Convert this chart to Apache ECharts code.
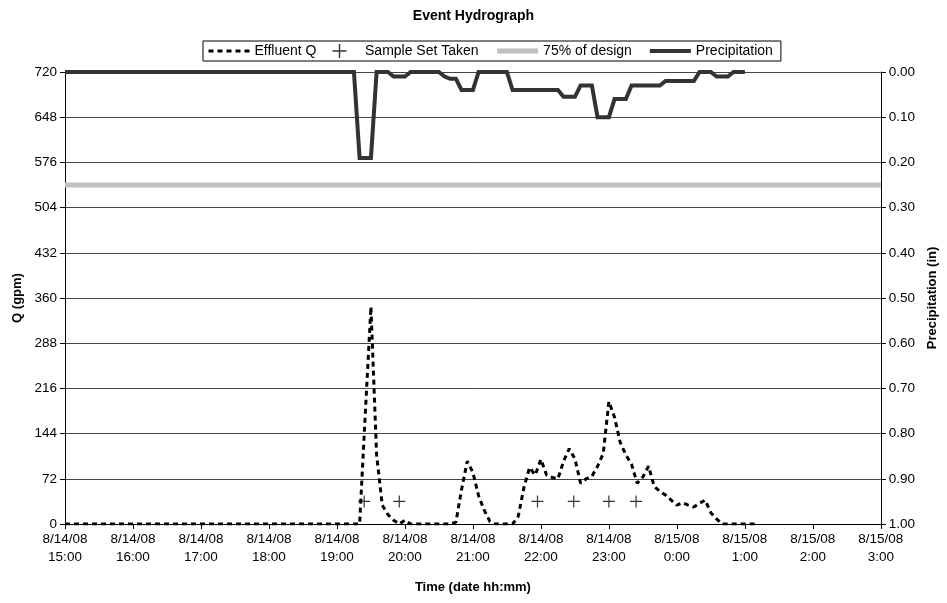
<!DOCTYPE html>
<html>
<head>
<meta charset="utf-8">
<script src="https://cdn.jsdelivr.net/npm/echarts@6/dist/echarts.min.js"></script>
<style>
  html, body { margin: 0; padding: 0; background: #fff; }
  #chart { width: 947px; height: 603px; }
</style>
</head>
<body>
<div id="chart"></div>
<script>
// time of day (hh:mm), 8/14/08 15:00 through 8/15/08 3:00
var effTimes = ['15:00', '19:15', '19:20', '19:25', '19:30', '19:35', '19:40', '19:45', '19:50', '19:55',
  '20:00', '20:05', '20:10', '20:40', '20:45', '20:50', '20:55', '21:00', '21:05', '21:10', '21:15', '21:20',
  '21:35', '21:40', '21:45', '21:50', '21:55', '22:00', '22:05', '22:10', '22:15', '22:20', '22:25', '22:30',
  '22:35', '22:40', '22:45', '22:50', '22:55', '23:00', '23:05', '23:10', '23:15', '23:20', '23:25', '23:30',
  '23:35', '23:40', '23:45', '23:50', '23:55', '00:00', '00:05', '00:10', '00:15', '00:20', '00:25', '00:30',
  '00:35', '00:40', '01:10'];
var effQ = [0, 0, 0, 175, 346, 110, 30, 15, 6, 0,
  6, 0, 0, 0, 3, 55, 100, 82, 45, 22, 4, 0,
  0, 12, 58, 90, 78, 103, 78, 74, 72, 100, 120, 104,
  65, 72, 76, 92, 112, 195, 170, 130, 110, 95, 65, 75,
  92, 60, 52, 46, 38, 30, 34, 30, 27, 33, 38, 18,
  8, 0, 0];

var sampleTimes = ['19:24', '19:55', '21:57', '22:29', '23:00', '23:24'];
var sampleQ = [36, 36, 36, 36, 36, 36];

var designTimes = ['15:00', '03:00'];
var designQ = [540, 540];

var precipTimes = ['15:00', '19:15', '19:20', '19:30', '19:35', '19:45', '19:50', '20:00', '20:05', '20:30',
  '20:35', '20:40', '20:45', '20:50', '21:00', '21:05', '21:30', '21:35', '22:15', '22:20', '22:30', '22:35',
  '22:45', '22:50', '23:00', '23:05', '23:15', '23:20', '23:45', '23:50', '00:15', '00:20', '00:30', '00:35',
  '00:45', '00:50', '01:00'];
var precipIn = [0, 0, 0.19, 0.19, 0, 0, 0.01, 0.01, 0, 0,
  0.01, 0.015, 0.015, 0.04, 0.04, 0, 0, 0.04, 0.04, 0.055, 0.055, 0.03,
  0.03, 0.10, 0.10, 0.06, 0.06, 0.03, 0.03, 0.02, 0.02, 0, 0, 0.01,
  0.01, 0, 0];

var FONT = 'Liberation Sans, Arial, sans-serif';

// hours after 8/14/08 15:00
function toHours(t) {
  var p = t.split(':');
  var h = +p[0] + (+p[1]) / 60;
  if (h < 12) h += 24;
  return h - 15;
}
function pairs(times, vals) {
  return times.map(function (t, i) { return [toHours(t), vals[i]]; });
}

var chart = echarts.init(document.getElementById('chart'));

var noDot = { opacity: 0 };

var option = {
  animation: false,
  backgroundColor: '#fff',
  textStyle: { fontFamily: FONT, color: '#000' },
  title: {
    text: 'Event Hydrograph',
    left: 'center',
    top: 4,
    textStyle: { fontFamily: FONT, fontSize: 14, fontWeight: 'bold', color: '#000' }
  },
  legend: {
    left: 203,
    top: 41,
    padding: [3, 8, 3, 4],
    itemGap: 16,
    itemWidth: 41,
    itemHeight: 14,
    borderColor: '#000',
    borderWidth: 1,
    borderRadius: 0,
    backgroundColor: '#fff',
    textStyle: { fontFamily: FONT, fontSize: 14, color: '#000' },
    data: [
      { name: 'Effluent Q', itemStyle: noDot, lineStyle: { width: 3 } },
      { name: 'Sample Set Taken' },
      { name: '75% of design', itemStyle: noDot, lineStyle: { width: 5 } },
      { name: 'Precipitation', itemStyle: noDot, lineStyle: { width: 4 } }
    ]
  },
  grid: { left: 65, right: 62, top: 72, bottom: 79 },
  xAxis: {
    type: 'value',
    min: 0,
    max: 12,
    interval: 1,
    name: 'Time (date hh:mm)',
    nameLocation: 'middle',
    nameGap: 57,
    nameTextStyle: { fontFamily: FONT, fontSize: 13, fontWeight: 'bold', color: '#000' },
    axisLine: { lineStyle: { color: '#000', width: 1 } },
    axisTick: { length: 5, lineStyle: { color: '#000' } },
    splitLine: { show: false },
    axisLabel: {
      fontFamily: FONT, fontSize: 13.5, color: '#000', margin: 6, lineHeight: 18,
      formatter: function (v) {
        var h = 15 + v;
        var d = h >= 24 ? '8/15/08' : '8/14/08';
        return d + '\n' + (h % 24) + ':00';
      }
    }
  },
  yAxis: [
    {
      type: 'value',
      min: 0,
      max: 720,
      interval: 72,
      name: 'Q (gpm)',
      nameLocation: 'middle',
      nameRotate: 90,
      nameGap: 41,
      nameTextStyle: { fontFamily: FONT, fontSize: 13, fontWeight: 'bold', color: '#000' },
      axisLine: { show: true, lineStyle: { color: '#000', width: 1 } },
      axisTick: { show: true, length: 5, lineStyle: { color: '#000' } },
      splitLine: { lineStyle: { color: '#444', width: 1 } },
      axisLabel: { fontFamily: FONT, fontSize: 13.5, color: '#000', margin: 8 }
    },
    {
      type: 'value',
      min: 0,
      max: 1,
      interval: 0.1,
      inverse: true,
      position: 'right',
      name: 'Precipitation (in)',
      nameLocation: 'middle',
      nameRotate: 90,
      nameGap: 37,
      nameTextStyle: { fontFamily: FONT, fontSize: 13, fontWeight: 'bold', color: '#000' },
      axisLine: { show: true, lineStyle: { color: '#000', width: 1 } },
      axisTick: { show: true, length: 5, lineStyle: { color: '#000' } },
      splitLine: { show: false },
      axisLabel: {
        fontFamily: FONT, fontSize: 13.5, color: '#000', margin: 8,
        formatter: function (v) { return v.toFixed(2); }
      }
    }
  ],
  series: [
    {
      name: 'Effluent Q',
      type: 'line',
      showSymbol: false,
      symbol: 'none',
      data: pairs(effTimes, effQ),
      lineStyle: { color: '#000', width: 3, type: [5, 4] },
      itemStyle: { color: '#000' },
      z: 4
    },
    {
      name: 'Sample Set Taken',
      type: 'scatter',
      symbol: 'path://M4.5,0h1v4.5h4.5v1h-4.5v4.5h-1v-4.5h-4.5v-1h4.5z',
      symbolSize: 12,
      data: pairs(sampleTimes, sampleQ),
      itemStyle: { color: '#000' },
      z: 5
    },
    {
      name: '75% of design',
      type: 'line',
      symbol: 'none',
      data: pairs(designTimes, designQ),
      lineStyle: { color: '#c0c0c0', width: 5 },
      itemStyle: { color: '#c0c0c0' },
      z: 2
    },
    {
      name: 'Precipitation',
      type: 'line',
      yAxisIndex: 1,
      symbol: 'none',
      data: pairs(precipTimes, precipIn),
      lineStyle: { color: '#333', width: 4, join: 'miter' },
      itemStyle: { color: '#333' },
      z: 3
    }
  ]
};

chart.setOption(option);
</script>
</body>
</html>
